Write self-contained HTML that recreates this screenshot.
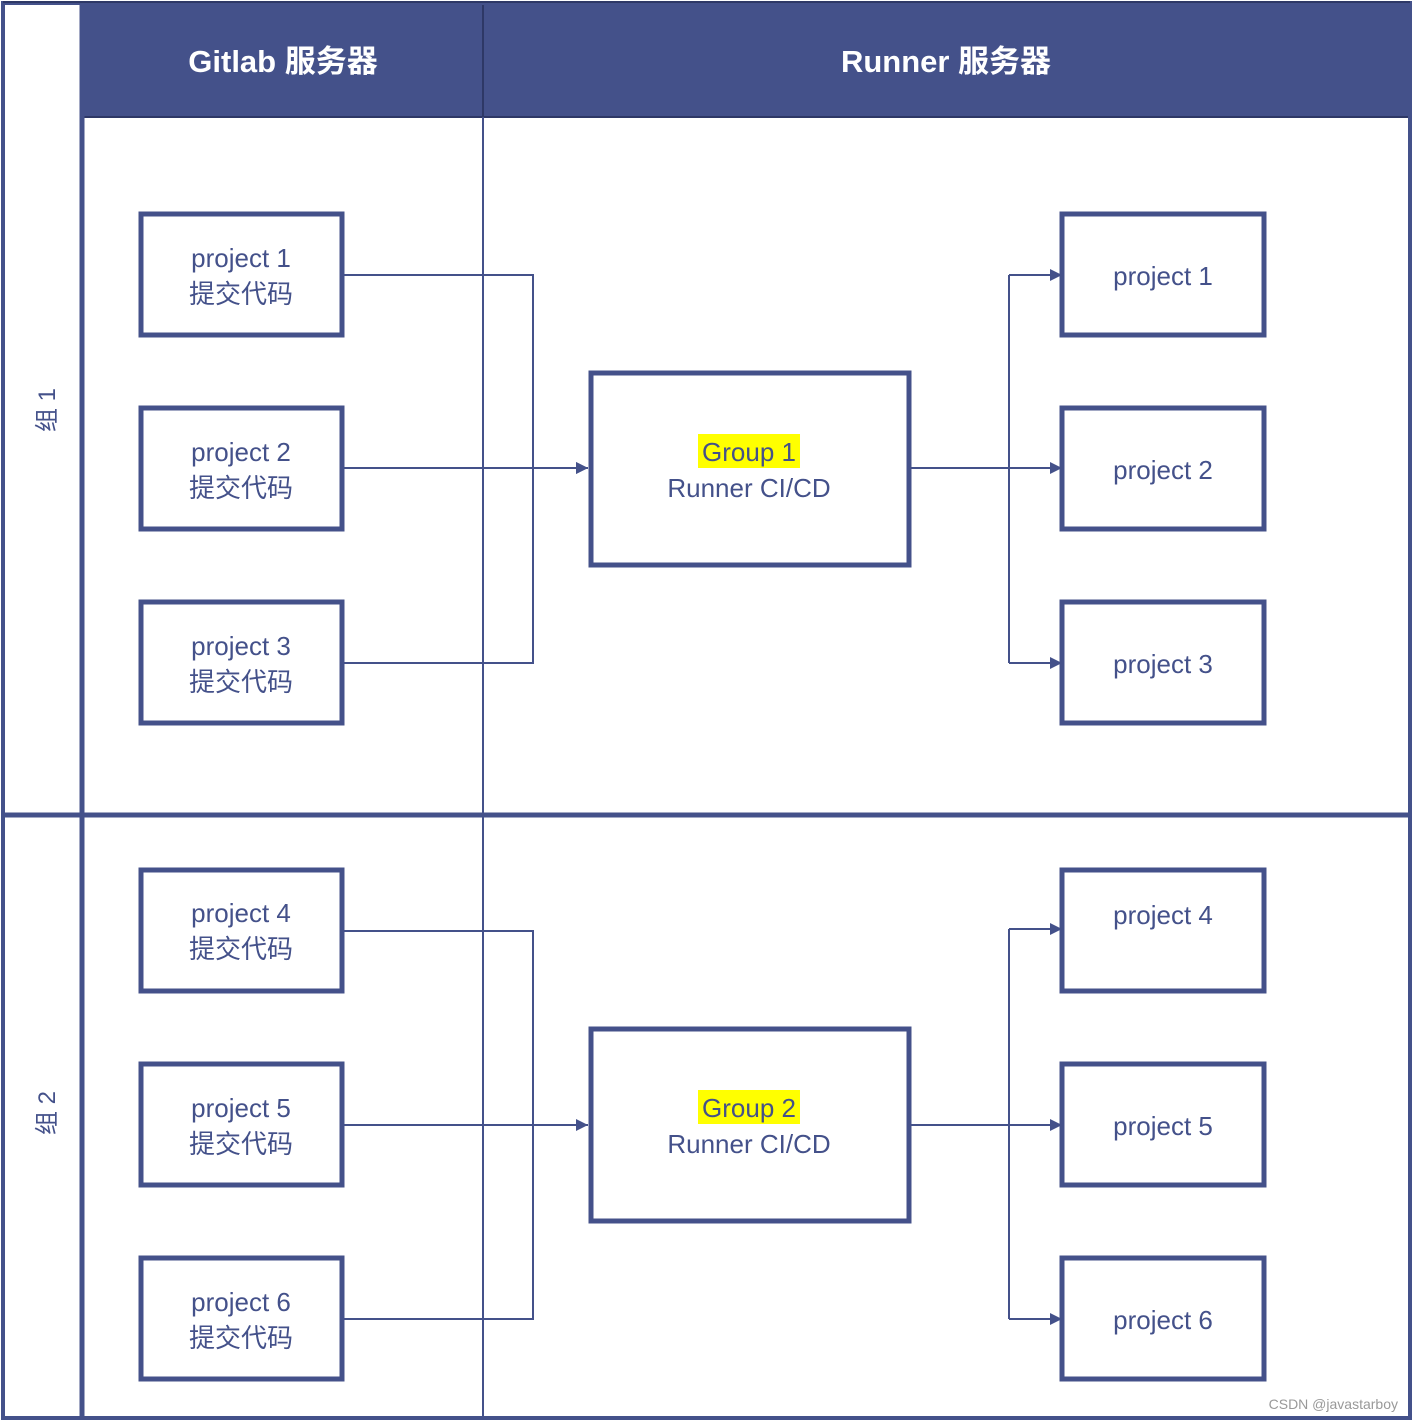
<!DOCTYPE html>
<html><head><meta charset="utf-8"><style>html,body{margin:0;padding:0;background:#fff}svg{display:block}</style></head>
<body>
<svg width="1414" height="1422" viewBox="0 0 1414 1422" xmlns="http://www.w3.org/2000/svg" font-family="'Liberation Sans','Noto Sans CJK SC',sans-serif">
<defs><marker id="a" viewBox="0 0 10 10" refX="10" refY="5" markerWidth="12" markerHeight="12" markerUnits="userSpaceOnUse" orient="auto"><path d="M0,0L10,5L0,10z" fill="#44518a"/></marker></defs>
<rect x="82" y="3" width="1328" height="114" fill="#44518a"/>
<line x1="82" y1="117" x2="1410" y2="117" stroke="#2e3866" stroke-width="2"/>
<line x1="483" y1="3" x2="483" y2="1418" stroke="#44518a" stroke-width="2"/>
<line x1="483" y1="3" x2="483" y2="117" stroke="#2e3866" stroke-width="2"/>
<rect x="3" y="3" width="1407" height="1415" fill="none" stroke="#44518a" stroke-width="4"/>
<line x1="3" y1="2" x2="1410" y2="2" stroke="#2e3866" stroke-width="2"/>
<line x1="82" y1="3" x2="82" y2="1418" stroke="#44518a" stroke-width="5"/>
<line x1="3" y1="815" x2="1410" y2="815" stroke="#44518a" stroke-width="5"/>
<text x="283" y="72" fill="#fff" font-size="31" font-weight="bold" text-anchor="middle">Gitlab 服务器</text>
<text x="946" y="72" fill="#fff" font-size="31" font-weight="bold" text-anchor="middle">Runner  服务器</text>
<text transform="translate(55,410) rotate(-90)" fill="#44518a" font-size="24" text-anchor="middle">组 1</text>
<text transform="translate(55,1113) rotate(-90)" fill="#44518a" font-size="24" text-anchor="middle">组 2</text>
<g fill="none" stroke="#44518a" stroke-width="2">
<path d="M342,275H533V663H342M342,468H588" marker-end="url(#a)"/>
<path d="M533,468H588" marker-end="url(#a)"/>
<path d="M910,468H1062" marker-end="url(#a)"/>
<path d="M1009,275V663"/>
<path d="M1009,275H1062" marker-end="url(#a)"/>
<path d="M1009,663H1062" marker-end="url(#a)"/>
<path d="M342,931H533V1319H342"/>
<path d="M342,1125H588" marker-end="url(#a)"/>
<path d="M910,1125H1062" marker-end="url(#a)"/>
<path d="M1009,929V1319"/>
<path d="M1009,929H1062" marker-end="url(#a)"/>
<path d="M1009,1319H1062" marker-end="url(#a)"/>
</g>
<g fill="#fff" stroke="#44518a" stroke-width="5">
<rect x="141" y="214" width="201" height="121"/>
<rect x="141" y="408" width="201" height="121"/>
<rect x="141" y="602" width="201" height="121"/>
<rect x="141" y="870" width="201" height="121"/>
<rect x="141" y="1064" width="201" height="121"/>
<rect x="141" y="1258" width="201" height="121"/>
<rect x="1062" y="214" width="202" height="121"/>
<rect x="1062" y="408" width="202" height="121"/>
<rect x="1062" y="602" width="202" height="121"/>
<rect x="1062" y="870" width="202" height="121"/>
<rect x="1062" y="1064" width="202" height="121"/>
<rect x="1062" y="1258" width="202" height="121"/>
<rect x="591" y="373" width="318" height="192"/>
<rect x="591" y="1029" width="318" height="192"/>
</g>
<rect x="698" y="434" width="102" height="34" fill="#ffff00"/>
<rect x="698" y="1090" width="102" height="34" fill="#ffff00"/>
<g fill="#44518a" font-size="26" text-anchor="middle">
<text x="241" y="267">project 1</text><text x="241" y="303">提交代码</text>
<text x="241" y="461">project 2</text><text x="241" y="497">提交代码</text>
<text x="241" y="655">project 3</text><text x="241" y="691">提交代码</text>
<text x="241" y="922">project 4</text><text x="241" y="958">提交代码</text>
<text x="241" y="1117">project 5</text><text x="241" y="1153">提交代码</text>
<text x="241" y="1311">project 6</text><text x="241" y="1347">提交代码</text>
<text x="1163" y="285">project 1</text>
<text x="1163" y="479">project 2</text>
<text x="1163" y="673">project 3</text>
<text x="1163" y="924">project 4</text>
<text x="1163" y="1135">project 5</text>
<text x="1163" y="1329">project 6</text>
<text x="749" y="461">Group 1</text><text x="749" y="497">Runner CI/CD</text>
<text x="749" y="1117">Group 2</text><text x="749" y="1153">Runner CI/CD</text>
</g>
<text x="1398" y="1409" fill="#999" font-size="14" text-anchor="end">CSDN @javastarboy</text>
</svg>
</body></html>
